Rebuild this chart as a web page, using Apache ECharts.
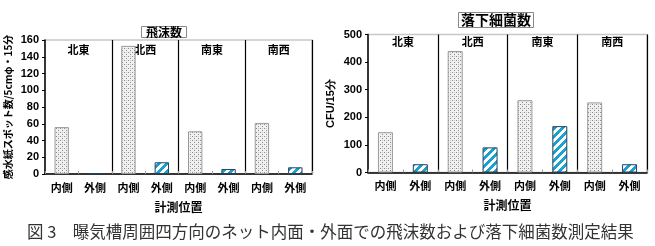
<!DOCTYPE html>
<html><head><meta charset="utf-8">
<script src="https://cdn.jsdelivr.net/npm/echarts@6/dist/echarts.min.js"></script>
<style>html,body{margin:0;padding:0;background:#fff}#c{width:655px;height:246px}</style>
</head><body><div id="c"></div>
<script>
// ---- data ----
const positions = ['内側','外側','内側','外側','内側','外側','内側','外側'];
const directions = ['北東','北西','南東','南西'];
const sprayValues = [56, 1, 153, 14, 51, 6, 61, 8];
const bacteriaValues = [146, 30, 440, 91, 262, 168, 254, 30];
const sprayTicks = [0, 160, 20];
const bacteriaTicks = [0, 500, 100];
const titles = ['飛沫数', '落下細菌数'];
const yNames = ['感水紙スポット数/5cmφ・15分', 'CFU/15分'];
const xName = '計測位置';
const caption = '図 3　曝気槽周囲四方向のネット内面・外面での飛沫数および落下細菌数測定結果';

// ---- patterns ----
function dotPattern(){
  const c = document.createElement('canvas'); c.width = 4; c.height = 4;
  const g = c.getContext('2d');
  g.fillStyle = '#f1f1f1'; g.fillRect(0,0,4,4);
  g.fillStyle = '#8a8a8a'; g.fillRect(0,0,1,1); g.fillRect(2,2,1,1);
  g.fillStyle = '#c8c8c8'; g.fillRect(2,0,1,1);
  return c;
}
function stripePattern(){
  const n = 8;
  const c = document.createElement('canvas'); c.width = n; c.height = n;
  const g = c.getContext('2d');
  const img = g.createImageData(n, n);
  for (let y = 0; y < n; y++) for (let x = 0; x < n; x++) {
    const i = (y*n + x)*4;
    const on = ((x + y) % n) < 4;
    img.data[i] = on ? 0x1c : 255; img.data[i+1] = on ? 0xa0 : 255;
    img.data[i+2] = on ? 0xd2 : 255; img.data[i+3] = 255;
  }
  g.putImageData(img, 0, 0);
  return c;
}
const dotFill = {image: dotPattern(), repeat: 'repeat'};
const stripeFill = {image: stripePattern(), repeat: 'repeat'};

function styledData(vals){
  return vals.map((v, i) => ({
    value: v,
    itemStyle: i % 2 === 0
      ? {color: dotFill, borderColor: '#9a9a9a', borderWidth: 1}
      : {color: stripeFill, borderColor: '#24435e', borderWidth: 1}
  }));
}

const latin = 'Liberation Sans, Arial, sans-serif';
const cjk = '"Noto Sans CJK JP", sans-serif';

const grids = [
  {left: 45, top: 40, width: 267, height: 134},
  {left: 368, top: 34.5, width: 279, height: 138}
];

const xAxes = [], yAxes = [], series = [];
[0,1].forEach(k => {
  xAxes.push({
    type: 'category', gridIndex: k, data: positions,
    axisLine: {lineStyle: {color: '#000', width: 1.5}},
    axisTick: {show: true, inside: true, length: 3, interval: 0, lineStyle: {color: '#999'}},
    axisLabel: {interval: 0, color: '#000', fontFamily: cjk, fontWeight: 'bold', fontSize: 11, margin: 8},
    splitLine: {show: true, interval: (i) => i % 2 === 0 && i > 0, lineStyle: {color: '#000', width: 1.2}},
    name: xName, nameLocation: 'middle', nameGap: 27,
    nameTextStyle: {color: '#000', fontFamily: cjk, fontWeight: 'bold', fontSize: 12}
  });
  xAxes.push({
    type: 'category', gridIndex: k, position: 'top', data: directions,
    axisLine: {show: false}, axisTick: {show: false},
    axisLabel: {inside: true, interval: 0, color: '#000', fontFamily: cjk, fontWeight: 'bold', fontSize: 11, margin: k === 0 ? 4 : 2}
  });
  const t = k === 0 ? sprayTicks : bacteriaTicks;
  yAxes.push({
    type: 'value', gridIndex: k, min: t[0], max: t[1], interval: t[2],
    axisLine: {show: true, lineStyle: {color: '#000', width: 1.5}},
    axisTick: {show: true, length: 3, lineStyle: {color: '#000'}},
    splitLine: {show: false},
    axisLabel: {color: '#000', fontFamily: latin, fontWeight: 'bold', fontSize: 11, margin: 6},
    name: yNames[k], nameLocation: 'middle', nameRotate: 90,
    nameGap: k === 0 ? 32 : 32,
    nameTextStyle: {color: '#000', fontFamily: k === 0 ? cjk : latin, fontWeight: 'bold', fontSize: k === 0 ? 10 : 11}
  });
  series.push({
    type: 'bar', xAxisIndex: k*2, yAxisIndex: k, barWidth: '43%',
    data: styledData(k === 0 ? sprayValues : bacteriaValues), silent: true, animation: false
  });
});

const chart = echarts.init(document.getElementById('c'), null, {renderer: 'canvas'});
chart.setOption({
  backgroundColor: '#fff',
  animation: false,
  title: [
    {text: titles[0], left: 159, top: 26, textAlign: 'center', borderColor: '#888', borderWidth: 1, padding: [0, 5],
     textStyle: {fontFamily: cjk, fontWeight: 'bold', fontSize: 12, color: '#000', lineHeight: 12}},
    {text: titles[1], left: 493, top: 12, textAlign: 'center', borderColor: '#888', borderWidth: 1, padding: [1, 3],
     textStyle: {fontFamily: cjk, fontWeight: 'bold', fontSize: 14, color: '#000'}},
    {text: caption, left: 22, top: 218,
     textStyle: {fontFamily: cjk, fontWeight: 'normal', fontSize: 16.5, color: '#333'}}
  ],
  grid: grids.map(g => Object.assign({show: true, borderColor: '#c8c8c8', borderWidth: 1.5, containLabel: false}, g)),
  xAxis: xAxes,
  yAxis: yAxes,
  series: series
});
</script></body></html>
